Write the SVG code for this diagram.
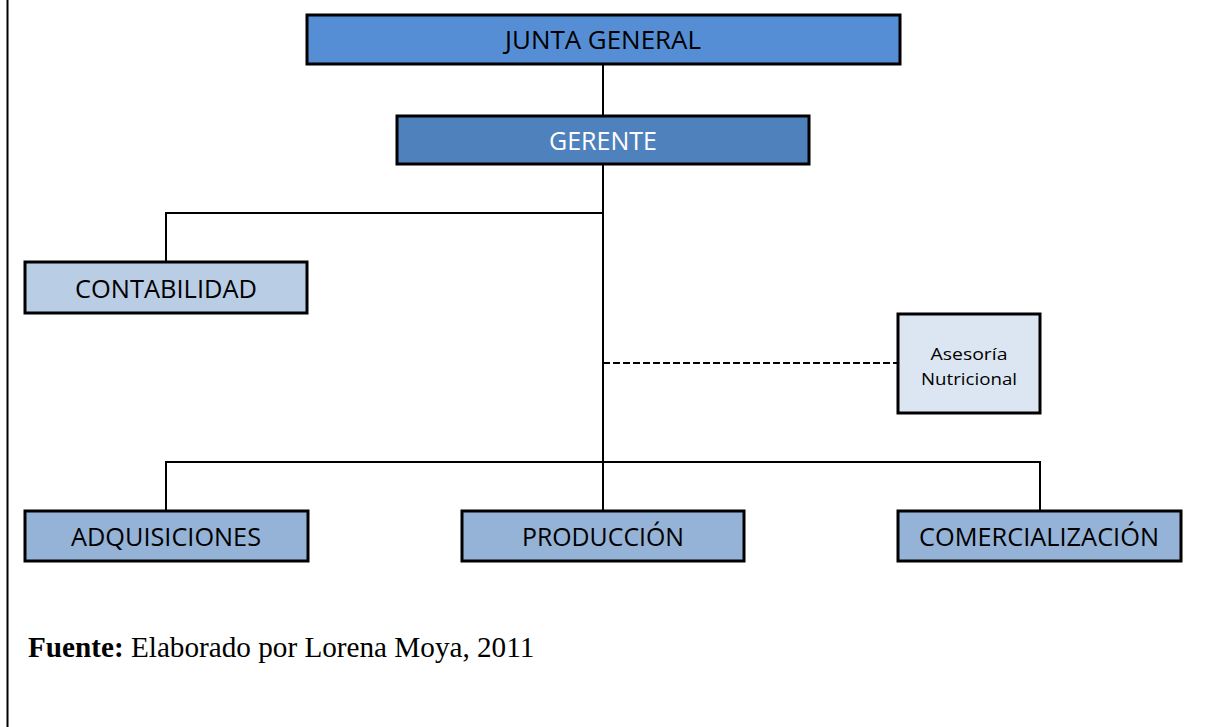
<svg xmlns="http://www.w3.org/2000/svg" width="1227" height="727" viewBox="0 0 1227 727">
<style>
.box{stroke:#000;stroke-width:3}
.t{font-family:'Open Sans','Liberation Sans',sans-serif;font-size:25px;fill:#000;text-anchor:middle}
.s{font-family:'Open Sans','Liberation Sans',sans-serif;font-size:17px;fill:#000;text-anchor:middle}
.ln{stroke:#000;stroke-width:2;fill:none}
.dash{stroke:#000;stroke-width:2;fill:none;stroke-dasharray:7 3}
.foot{font-family:'Liberation Serif','Times New Roman',serif;font-size:29.2px;fill:#000}
</style>
<rect width="1227" height="727" fill="#fff"/>
<line x1="7.5" y1="0" x2="7.5" y2="727" stroke="#000" stroke-width="2"/>
<g id="connectors">
<line class="ln" x1="603" y1="64" x2="603" y2="116"/>
<line class="ln" x1="603" y1="164" x2="603" y2="511"/>
<polyline class="ln" points="603,213 166,213 166,262"/>
<polyline class="ln" points="166,511 166,462 1040,462 1040,511"/>
<line class="dash" x1="603" y1="363" x2="897" y2="363"/>
</g>
<g id="junta">
<rect class="box" x="307" y="15" width="593" height="49" fill="#558ED5"/>
<text class="t" x="603" y="49" textLength="196" lengthAdjust="spacingAndGlyphs">JUNTA GENERAL</text>
</g>
<g id="gerente">
<rect class="box" x="397" y="116" width="412" height="48" fill="#4F81BD"/>
<text class="t" x="603" y="150" style="fill:#fff" textLength="108" lengthAdjust="spacingAndGlyphs">GERENTE</text>
</g>
<g id="contabilidad">
<rect class="box" x="25" y="262" width="282" height="51" fill="#B9CDE5"/>
<text class="t" x="166" y="298" textLength="182" lengthAdjust="spacingAndGlyphs">CONTABILIDAD</text>
</g>
<g id="asesoria">
<rect class="box" x="898" y="314" width="142" height="99" fill="#DCE6F2"/>
<text class="s" x="969" y="360" textLength="77" lengthAdjust="spacingAndGlyphs">Asesoría</text>
<text class="s" x="969" y="385" textLength="96" lengthAdjust="spacingAndGlyphs">Nutricional</text>
</g>
<g id="adquisiciones">
<rect class="box" x="25" y="511" width="283" height="50" fill="#95B3D7"/>
<text class="t" x="166" y="546" textLength="190" lengthAdjust="spacingAndGlyphs">ADQUISICIONES</text>
</g>
<g id="produccion">
<rect class="box" x="462" y="511" width="282" height="50" fill="#95B3D7"/>
<text class="t" x="603" y="546" textLength="162" lengthAdjust="spacingAndGlyphs">PRODUCCIÓN</text>
</g>
<g id="comercializacion">
<rect class="box" x="898" y="511" width="283" height="50" fill="#95B3D7"/>
<text class="t" x="1039" y="546" textLength="240" lengthAdjust="spacingAndGlyphs">COMERCIALIZACIÓN</text>
</g>
<text class="foot" x="28" y="657"><tspan font-weight="bold">Fuente:</tspan> Elaborado por Lorena Moya, 2011</text>
</svg>
